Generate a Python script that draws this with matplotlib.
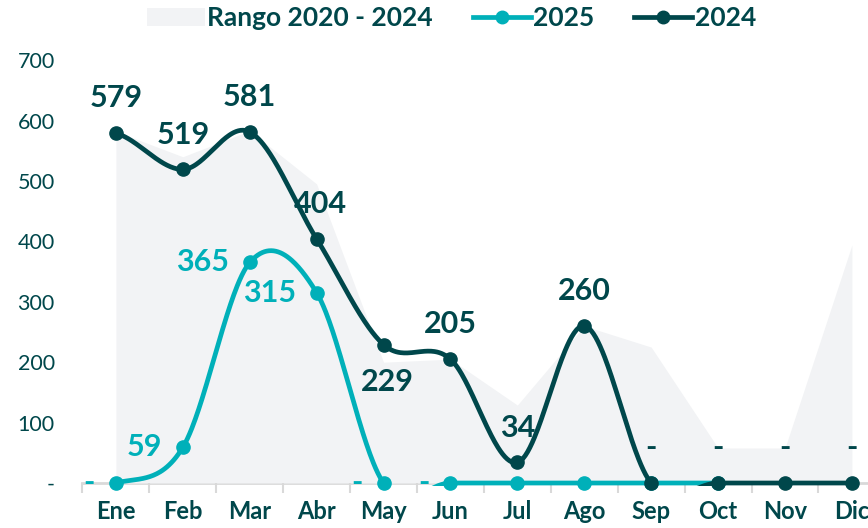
import numpy as np
import matplotlib
matplotlib.use("Agg")
import matplotlib.pyplot as plt
from matplotlib.patches import Patch, Rectangle
from matplotlib.lines import Line2D

plt.rcParams['font.family'] = ['Lato', 'DejaVu Sans']

months = ['Ene', 'Feb', 'Mar', 'Abr', 'May', 'Jun', 'Jul', 'Ago', 'Sep', 'Oct', 'Nov', 'Dic']
range_max = [582, 540, 583, 495, 200, 205, 129, 260, 225, 58, 58, 394]
range_min = [0, 0, 0, 0, 0, 0, 0, 0, 0, 0, 0, 0]
values_2024 = [579, 519, 581, 404, 229, 205, 34, 260, 0, 0, 0, 0]
values_2025 = [0, 59, 365, 315, 0, 0, 0, 0, 0, 0]

# where excel put each label
pos_2024 = ['above', 'above', 'above', 'above', 'below', 'above', 'above', 'above',
            'above', 'above', 'above', 'above']

DARK = '#00474B'
TEAL = '#00B0B9'
BAND = '#F2F3F5'
AXIS = '#D9D9D9'


def smooth(values, n=60):
    # catmull-rom like excel's smoothed line
    y = np.asarray(values, dtype=float)
    k = len(y)
    p = np.concatenate([[y[0]], y, [y[-1]]])
    xs, ys = [], []
    for i in range(k - 1):
        m1 = (p[i + 2] - p[i]) / 2
        m2 = (p[i + 3] - p[i + 1]) / 2
        t = np.linspace(0, 1, n)
        h00 = 2 * t**3 - 3 * t**2 + 1
        h10 = t**3 - 2 * t**2 + t
        h01 = -2 * t**3 + 3 * t**2
        h11 = t**3 - t**2
        xs.append(i + t)
        ys.append(h00 * p[i + 1] + h10 * m1 + h01 * p[i + 2] + h11 * m2)
    return np.concatenate(xs), np.concatenate(ys)


def fmt(v):
    return '-' if v == 0 else str(v)


fig = plt.figure(figsize=(8.68, 5.28), dpi=100)
ax = fig.add_axes([0.095, 0.0852, 0.925, 0.801])

x = np.arange(len(months))
ax.fill_between(x, range_min, range_max, color=BAND, lw=0, zorder=1)

clip = Rectangle((0, -0.007), 1, 1.2, transform=ax.transAxes, visible=False)
ax.add_patch(clip)

for vals, col, z in [(values_2025, TEAL, 3), (values_2024, DARK, 5)]:
    sx, sy = smooth(vals)
    ln, = ax.plot(sx, sy, color=col, lw=3.4, zorder=z, solid_capstyle='round')
    ln.set_clip_path(clip)
    ax.plot(np.arange(len(vals)), vals, 'o', color=col, ms=9.5, zorder=z + 0.5, clip_on=False)

for i, v in enumerate(values_2025):
    ax.annotate(fmt(v), (i, v), xytext=(-15, 0), textcoords='offset points',
                ha='right', va='center', color=TEAL, fontsize=22, fontweight='bold', zorder=8)

for i, v in enumerate(values_2024):
    dy = 25 if pos_2024[i] == 'above' else -27
    dx = 0 if pos_2024[i] == 'above' else 3
    if i == 3:
        dx = 3
    ax.annotate(fmt(v), (i, v), xytext=(dx, dy), textcoords='offset points',
                ha='center', va='center', color=DARK, fontsize=22, fontweight='bold', zorder=8)

ax.set_xlim(-0.5, 11.5)
ax.set_ylim(0, 700)
ax.set_xticks(x)
ax.set_xticklabels(months, fontsize=17, fontweight='bold', color=DARK)
ax.set_xticks(np.arange(-0.5, 12, 1), minor=True)
ax.tick_params(axis='x', which='major', length=0, pad=12)
ax.tick_params(axis='x', which='minor', length=7, width=1.5, color=AXIS)
ax.set_yticks(np.arange(0, 701, 100))
ax.set_yticklabels(['-'] + [str(v) for v in range(100, 701, 100)], fontsize=15.5, color=DARK)
ax.tick_params(axis='y', length=0, pad=20)
for s in ['top', 'right', 'left']:
    ax.spines[s].set_visible(False)
ax.spines['bottom'].set_color(AXIS)
ax.spines['bottom'].set_linewidth(2)
ax.spines['bottom'].set_zorder(0.5)

handles = [Patch(facecolor=BAND, edgecolor='none', label='Rango 2020 - 2024'),
           Line2D([], [], color=TEAL, lw=3.4, marker='o', ms=9, label='2025'),
           Line2D([], [], color=DARK, lw=3.4, marker='o', ms=9, label='2024')]
leg = fig.legend(handles=handles, loc='upper center', bbox_to_anchor=(0.52, 1.033), ncol=3,
                 frameon=False, handlelength=2.2, handletextpad=0.1, columnspacing=1.5,
                 prop={'size': 19, 'weight': 'bold'})
for t in leg.get_texts():
    t.set_color(DARK)

fig.savefig('out.png', dpi=100)
